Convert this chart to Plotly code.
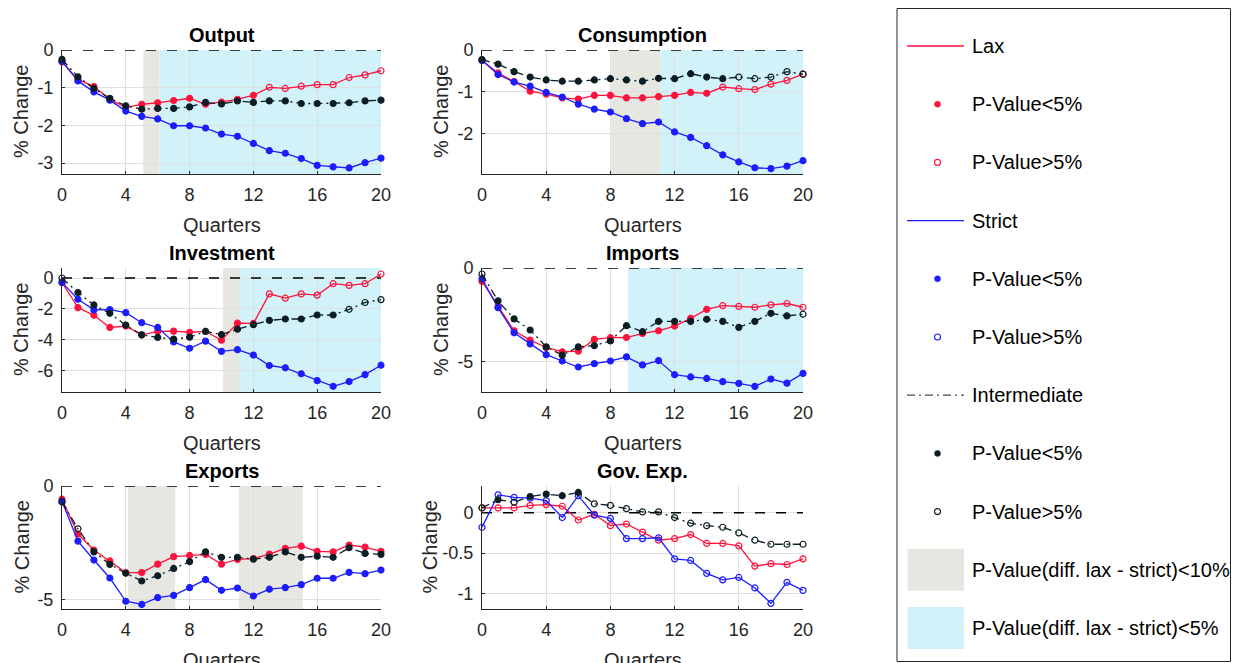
import plotly.graph_objects as go

W, H = 1240, 663

quarters = list(range(21))
x_ticks = [0, 4, 8, 12, 16, 20]

# ---------------- data ----------------
output_lax = [-0.32, -0.78, -0.97, -1.31, -1.52, -1.44, -1.40, -1.34, -1.28, -1.44, -1.38,
              -1.31, -1.20, -0.99, -1.02, -0.96, -0.92, -0.92, -0.73, -0.66, -0.55]
output_lax_sig = [1, 1, 1, 1, 1, 1, 1, 1, 1, 1, 1, 1, 1, 0, 0, 0, 0, 0, 0, 0, 0]
output_strict = [-0.30, -0.82, -1.11, -1.33, -1.62, -1.76, -1.83, -2.01, -2.01, -2.07, -2.23,
                 -2.29, -2.48, -2.67, -2.74, -2.88, -3.06, -3.10, -3.13, -2.99, -2.87]
output_strict_sig = [1] * 21
output_inter = [-0.25, -0.71, -1.02, -1.28, -1.48, -1.57, -1.55, -1.55, -1.51, -1.39, -1.43,
                -1.35, -1.39, -1.35, -1.35, -1.42, -1.42, -1.42, -1.40, -1.35, -1.33]
output_inter_sig = [1] * 21

cons_lax = [-0.25, -0.55, -0.76, -0.99, -1.06, -1.15, -1.18, -1.09, -1.09, -1.15, -1.15,
            -1.12, -1.09, -1.02, -1.04, -0.89, -0.93, -0.95, -0.82, -0.73, -0.58]
cons_lax_sig = [1, 1, 1, 1, 1, 1, 1, 1, 1, 1, 1, 1, 1, 1, 1, 0, 0, 0, 0, 0, 0]
cons_strict = [-0.25, -0.59, -0.77, -0.87, -1.02, -1.13, -1.30, -1.42, -1.49, -1.65, -1.77,
               -1.73, -1.97, -2.10, -2.30, -2.52, -2.69, -2.83, -2.85, -2.79, -2.66]
cons_strict_sig = [1] * 21
cons_inter = [-0.23, -0.34, -0.52, -0.65, -0.72, -0.75, -0.75, -0.72, -0.69, -0.72, -0.75,
              -0.68, -0.69, -0.57, -0.65, -0.69, -0.65, -0.69, -0.65, -0.52, -0.58]
cons_inter_sig = [1, 1, 1, 1, 1, 1, 1, 1, 1, 1, 1, 1, 1, 1, 1, 1, 0, 0, 0, 0, 0]

inv_lax = [-0.30, -1.92, -2.42, -3.21, -3.12, -3.69, -3.47, -3.45, -3.52, -3.47, -4.04,
           -2.93, -2.95, -1.03, -1.31, -1.03, -1.11, -0.37, -0.48, -0.37, 0.26]
inv_lax_sig = [1, 1, 1, 1, 1, 1, 1, 1, 1, 1, 1, 1, 1, 0, 0, 0, 0, 0, 0, 0, 0]
inv_strict = [-0.28, -1.38, -2.07, -2.05, -2.25, -2.90, -3.21, -4.15, -4.56, -4.10, -4.76,
              -4.65, -5.00, -5.68, -5.83, -6.22, -6.66, -7.03, -6.72, -6.27, -5.66]
inv_strict_sig = [1] * 21
inv_inter = [0.00, -0.94, -1.75, -2.29, -3.06, -3.69, -3.86, -3.97, -3.84, -3.47, -3.67,
             -3.32, -3.03, -2.75, -2.66, -2.66, -2.40, -2.40, -2.03, -1.59, -1.40]
inv_inter_sig = [0, 1, 1, 1, 1, 1, 1, 1, 1, 1, 1, 1, 1, 1, 1, 1, 1, 1, 0, 0, 0]

imp_lax = [-0.71, -2.05, -3.34, -3.84, -4.23, -4.46, -4.43, -3.80, -3.71, -3.70, -3.48,
           -3.34, -3.09, -2.68, -2.20, -2.00, -2.04, -2.09, -1.96, -1.89, -2.09]
imp_lax_sig = [1, 1, 1, 1, 1, 1, 1, 1, 1, 1, 1, 1, 1, 1, 1, 0, 0, 0, 0, 0, 0]
imp_strict = [-0.57, -2.11, -3.45, -4.04, -4.61, -4.95, -5.27, -5.09, -4.95, -4.73, -5.16,
              -4.93, -5.68, -5.80, -5.88, -6.05, -6.14, -6.30, -5.91, -6.13, -5.61]
imp_strict_sig = [1] * 21
imp_inter = [-0.32, -1.75, -2.71, -3.30, -4.20, -4.64, -4.20, -4.13, -3.88, -3.07, -3.39,
             -2.84, -2.84, -2.84, -2.73, -2.84, -3.16, -2.84, -2.41, -2.55, -2.46]
imp_inter_sig = [0, 1, 1, 1, 1, 1, 1, 1, 1, 1, 1, 1, 1, 1, 1, 1, 1, 1, 1, 1, 0]

exp_lax = [-0.58, -2.11, -2.81, -3.29, -3.80, -3.80, -3.43, -3.10, -3.05, -3.00, -3.43,
           -3.22, -3.19, -2.99, -2.74, -2.64, -2.87, -2.89, -2.59, -2.68, -2.87]
exp_lax_sig = [1] * 21
exp_strict = [-0.67, -2.42, -3.25, -4.04, -5.06, -5.20, -4.90, -4.80, -4.46, -4.11, -4.58,
              -4.48, -4.83, -4.53, -4.46, -4.33, -4.05, -4.05, -3.79, -3.85, -3.69]
exp_strict_sig = [1] * 21
exp_inter = [-0.70, -1.88, -2.89, -3.44, -3.83, -4.17, -3.94, -3.62, -3.32, -2.89, -3.13,
             -3.13, -3.21, -3.13, -2.89, -3.13, -3.08, -3.13, -2.71, -2.96, -3.00]
exp_inter_sig = [0, 0, 1, 1, 1, 1, 1, 1, 1, 1, 1, 1, 1, 1, 1, 1, 1, 1, 1, 1, 1]

gov_lax = [0.06, 0.06, 0.06, 0.09, 0.10, 0.08, -0.09, -0.02, -0.16, -0.14, -0.24,
           -0.34, -0.32, -0.27, -0.38, -0.38, -0.41, -0.66, -0.63, -0.64, -0.57]
gov_lax_sig = [0] * 21
gov_strict = [-0.18, 0.22, 0.19, 0.18, 0.15, -0.06, 0.21, -0.03, -0.07, -0.32, -0.32,
              -0.31, -0.57, -0.59, -0.75, -0.83, -0.80, -0.93, -1.12, -0.86, -0.96]
gov_strict_sig = [0] * 21
gov_inter = [0.06, 0.16, 0.13, 0.20, 0.23, 0.21, 0.25, 0.11, 0.09, 0.05, 0.01,
             0.01, -0.06, -0.13, -0.16, -0.18, -0.25, -0.34, -0.39, -0.39, -0.39]
gov_inter_sig = [0, 1, 0, 1, 1, 1, 1, 0, 0, 0, 0, 0, 0, 0, 0, 0, 0, 0, 0, 0, 0]

# shaded periods (quarters): p-value of lax-strict difference
output_p10 = [(5.1, 6.1)]
output_p05 = [(6.1, 20)]
cons_p10 = [(8.05, 11.1)]
cons_p05 = [(11.1, 20)]
inv_p10 = [(10.1, 11.1)]
inv_p05 = [(11.1, 20)]
imp_p10 = []
imp_p05 = [(9.1, 20)]
exp_p10 = [(4.15, 7.1), (11.1, 15.1)]
exp_p05 = []
gov_p10 = []
gov_p05 = []

titles = ["Output", "Consumption", "Investment", "Imports", "Exports", "Gov. Exp."]
y_tickvals = [[0, -1, -2, -3], [0, -1, -2], [0, -2, -4, -6], [0, -5], [0, -5], [0, -0.5, -1]]
y_ticktext = [["0", "-1", "-2", "-3"], ["0", "-1", "-2"], ["0", "-2", "-4", "-6"],
              ["0", "-5"], ["0", "-5"], ["0", "-0.5", "-1"]]
y_ranges = [[-3.29, 0], [-2.98, 0], [-7.4, 0.65], [-6.6, 0], [-5.4, 0], [-1.19, 0.33]]
zero_level = [0, 0]

panels = [
    (output_lax, output_lax_sig, output_strict, output_strict_sig, output_inter, output_inter_sig, output_p10, output_p05),
    (cons_lax, cons_lax_sig, cons_strict, cons_strict_sig, cons_inter, cons_inter_sig, cons_p10, cons_p05),
    (inv_lax, inv_lax_sig, inv_strict, inv_strict_sig, inv_inter, inv_inter_sig, inv_p10, inv_p05),
    (imp_lax, imp_lax_sig, imp_strict, imp_strict_sig, imp_inter, imp_inter_sig, imp_p10, imp_p05),
    (exp_lax, exp_lax_sig, exp_strict, exp_strict_sig, exp_inter, exp_inter_sig, exp_p10, exp_p05),
    (gov_lax, gov_lax_sig, gov_strict, gov_strict_sig, gov_inter, gov_inter_sig, gov_p10, gov_p05),
]

# ---------------- style ----------------
RED = "rgb(255,18,60)"
BLUE = "rgb(28,28,255)"
DARK = "rgb(12,30,36)"
GREY_FILL = "rgb(230,231,225)"
CYAN_FILL = "rgb(210,242,250)"
AX = "#262626"
FONT = "Liberation Sans, Arial, sans-serif"
DASHDOT = "8px,4px,2px,4px"

col_px = [(62, 381), (482, 803)]
row_px = [(50, 174), (268, 392), (486, 609)]
ylabel_shift = [-41, -41, -41, -41, -41, -53]


def px_x(p):
    return p / W


def px_y(p):
    return 1 - p / H


fig = go.Figure()
shapes = []
annotations = []
layout_axes = {}

for i, (lax, lax_s, st, st_s, it, it_s, p10, p05) in enumerate(panels):
    r, c = divmod(i, 2)
    n = i + 1
    xa = "x" if n == 1 else f"x{n}"
    ya = "y" if n == 1 else f"y{n}"
    xl, xr = col_px[c]
    yt, yb = row_px[r]
    layout_axes["xaxis" if n == 1 else f"xaxis{n}"] = dict(
        domain=[px_x(xl), px_x(xr)], anchor=ya, range=[0, 20],
        tickvals=x_ticks, showgrid=True, gridcolor="rgb(223,223,223)", gridwidth=1,
        zeroline=False, showline=True, linecolor=AX, linewidth=1,
        ticks="inside", ticklen=3, tickcolor=AX, mirror=False, automargin=False,
        tickfont=dict(family=FONT, size=18, color=AX), ticklabelstandoff=4,
    )
    layout_axes["yaxis" if n == 1 else f"yaxis{n}"] = dict(
        domain=[px_y(yb), px_y(yt)], anchor=xa, range=y_ranges[i],
        tickvals=y_tickvals[i], ticktext=y_ticktext[i],
        showgrid=True, gridcolor="rgb(223,223,223)", gridwidth=1,
        zeroline=False, showline=True, linecolor=AX, linewidth=1,
        ticks="inside", ticklen=3, tickcolor=AX, automargin=False,
        tickfont=dict(family=FONT, size=18, color=AX), ticklabelstandoff=4,
    )
    for (a, b) in p10:
        shapes.append(dict(type="rect", xref=xa, yref=f"{ya} domain", x0=a, x1=b, y0=0, y1=1,
                           fillcolor=GREY_FILL, line=dict(width=0), layer="below"))
    for (a, b) in p05:
        shapes.append(dict(type="rect", xref=xa, yref=f"{ya} domain", x0=a, x1=b, y0=0, y1=1,
                           fillcolor=CYAN_FILL, line=dict(width=0), layer="below"))

    # zero reference line
    fig.add_trace(go.Scatter(
        x=[quarters[0], quarters[-1]], y=zero_level, xaxis=xa, yaxis=ya, mode="lines",
        line=dict(color="black", width=1.6, dash="10px,11px"), showlegend=False, hoverinfo="skip",
        cliponaxis=False,
    ))

    for vals, sig, color, dash in [(lax, lax_s, RED, "solid"), (st, st_s, BLUE, "solid"),
                                   (it, it_s, DARK, DASHDOT)]:
        fig.add_trace(go.Scatter(
            x=quarters, y=vals, xaxis=xa, yaxis=ya, mode="lines+markers",
            line=dict(color=color, width=1.3, dash=dash),
            marker=dict(size=6, color=color,
                        symbol=["circle" if s else "circle-open" for s in sig],
                        line=dict(color=color, width=1.2)),
            cliponaxis=False, showlegend=False, hoverinfo="x+y",
        ))

    xc = (px_x(xl) + px_x(xr)) / 2
    annotations.append(dict(text=f"<b>{titles[i]}</b>", x=xc, y=px_y(yt), xref="paper", yref="paper",
                            xanchor="center", yanchor="bottom", yshift=2, showarrow=False,
                            font=dict(family=FONT, size=20, color="black")))
    annotations.append(dict(text="Quarters", x=xc, y=px_y(yb), xref="paper", yref="paper",
                            xanchor="center", yanchor="top", yshift=-38, showarrow=False,
                            font=dict(family=FONT, size=20, color=AX)))
    annotations.append(dict(text="% Change", x=px_x(xl), y=(px_y(yt) + px_y(yb)) / 2,
                            xref="paper", yref="paper", xanchor="center", yanchor="middle",
                            xshift=ylabel_shift[i], textangle=-90, showarrow=False,
                            font=dict(family=FONT, size=20, color=AX)))

# ---------------- legend box (drawn) ----------------
shapes.append(dict(type="rect", xref="paper", yref="paper", x0=px_x(897), x1=px_x(1230.5),
                   y0=px_y(661.5), y1=px_y(8.5), line=dict(color=AX, width=1),
                   fillcolor="rgba(0,0,0,0)", layer="above"))

legend_items = [
    ("line", RED, "solid", "Lax"),
    ("dot", RED, None, "P-Value<5%"),
    ("ring", RED, None, "P-Value>5%"),
    ("line", BLUE, "solid", "Strict"),
    ("dot", BLUE, None, "P-Value<5%"),
    ("ring", BLUE, None, "P-Value>5%"),
    ("line", "rgb(60,75,78)", DASHDOT, "Intermediate"),
    ("dot", DARK, None, "P-Value<5%"),
    ("ring", DARK, None, "P-Value>5%"),
    ("patch", GREY_FILL, None, "P-Value(diff. lax - strict)<10%"),
    ("patch", CYAN_FILL, None, "P-Value(diff. lax - strict)<5%"),
]
ly0, lstep = 46, 58.2
for k, (kind, color, dash, label) in enumerate(legend_items):
    yc = ly0 + k * lstep
    if kind == "line":
        shapes.append(dict(type="line", xref="paper", yref="paper", x0=px_x(907), x1=px_x(964),
                           y0=px_y(yc), y1=px_y(yc), line=dict(color=color, width=1.3, dash=dash),
                           layer="above"))
    elif kind == "dot":
        shapes.append(dict(type="circle", xref="paper", yref="paper", x0=px_x(934.5), x1=px_x(940.5),
                           y0=px_y(yc + 3), y1=px_y(yc - 3), fillcolor=color,
                           line=dict(color=color, width=0.5), layer="above"))
    elif kind == "ring":
        shapes.append(dict(type="circle", xref="paper", yref="paper", x0=px_x(934.5), x1=px_x(940.5),
                           y0=px_y(yc + 3), y1=px_y(yc - 3), fillcolor="rgba(0,0,0,0)",
                           line=dict(color=color, width=1.1), layer="above"))
    else:
        shapes.append(dict(type="rect", xref="paper", yref="paper", x0=px_x(907.5), x1=px_x(964),
                           y0=px_y(yc + 21), y1=px_y(yc - 21), fillcolor=color,
                           line=dict(width=0), layer="above"))
    annotations.append(dict(text=label, x=px_x(970), y=px_y(yc), xref="paper", yref="paper",
                            xanchor="left", yanchor="middle", showarrow=False,
                            font=dict(family=FONT, size=20, color="black")))

fig.update_layout(
    width=W, height=H, margin=dict(l=0, r=0, t=0, b=0, pad=0, autoexpand=False),
    paper_bgcolor="white", plot_bgcolor="rgba(0,0,0,0)",
    shapes=shapes, annotations=annotations, showlegend=False,
    font=dict(family=FONT),
    **layout_axes,
)

fig.write_html("out.html", config={"displayModeBar": False},
               post_script="document.body.style.margin='0px';")
